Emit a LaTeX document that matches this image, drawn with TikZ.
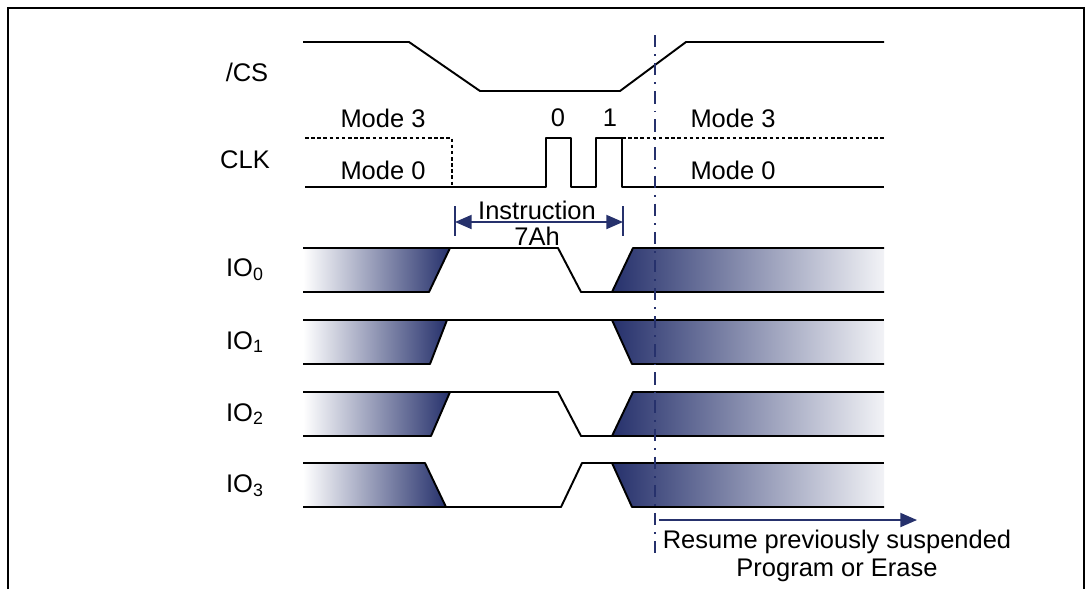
\documentclass[tikz,border=0pt]{standalone}
\usepackage{fontspec}
\setmainfont{Liberation Sans}
\usetikzlibrary{arrows.meta,positioning}
\definecolor{navy}{RGB}{38,49,108}

\begin{document}
\begin{tikzpicture}[x=0.02cm, y=-0.02cm, >={Triangle[length=9.5pt, width=8pt]},
  font=\fontsize{14.5}{16}\selectfont,
  sig/.style={line width=1.1pt, line join=round},
  modeline/.style={line width=0.8pt, dash pattern=on 2pt off 1.5pt},
  fadein/.style={left color=white, right color=navy},
  fadeout/.style={left color=navy, right color=navy!6}]
  \useasboundingbox (0,0) rectangle (1091,589);
  \draw[line width=1.2pt] (8,589) -- (8,8) -- (1084,8) -- (1084,589);

  \node (cs) at (247,72) {/CS};
  \node (clk) at (245,160) {CLK};
  \node (io0) at (245,270) {IO\textsubscript{0}};
  \node (io1) at (245,342) {IO\textsubscript{1}};
  \node (io2) at (245,414) {IO\textsubscript{2}};
  \node (io3) at (245,486) {IO\textsubscript{3}};

  \draw[sig] (303,42) -- (409,42) -- (480,91) -- (620,91) -- (686,42) -- (884,42);

  \draw[sig] (305,187) -- (546,187) -- (546,138) -- (571,138) -- (571,187) -- (596,187)
    -- (596,138) -- (622,138) -- (622,187) -- (884,187);
  \draw[modeline] (305,138) -- (452,138) -- (452,187);
  \draw[modeline] (622,138) -- (884,138);
  \node (m3l) at (383,118) {Mode 3};
  \node (m0l) at (383,170) {Mode 0};
  \node (m3r) at (733,118) {Mode 3};
  \node (m0r) at (733,170) {Mode 0};
  \node (b0) at (558,118) {0};
  \node (b1) at (610,118) {1};

  \shade[fadein] (303,248) -- (450,248) -- (429,292) -- (303,292) -- cycle;
  \shade[fadein] (303,320) -- (447,320) -- (430,364) -- (303,364) -- cycle;
  \shade[fadein] (303,392) -- (450,392) -- (431,436) -- (303,436) -- cycle;
  \shade[fadein] (303,463) -- (425,463) -- (446,507) -- (303,507) -- cycle;
  \shade[fadeout] (633,248) -- (884,248) -- (884,292) -- (612,292) -- cycle;
  \shade[fadeout] (612,320) -- (884,320) -- (884,364) -- (632,364) -- cycle;
  \shade[fadeout] (633,392) -- (884,392) -- (884,436) -- (612,436) -- cycle;
  \shade[fadeout] (612,463) -- (884,463) -- (884,507) -- (632,507) -- cycle;

  \draw[sig] (303,248) -- (558,248) -- (581,292) -- (884,292);
  \draw[sig] (303,292) -- (429,292) -- (450,248);
  \draw[sig] (612,292) -- (633,248) -- (884,248);

  \draw[sig] (303,320) -- (884,320);
  \draw[sig] (303,364) -- (430,364) -- (447,320);
  \draw[sig] (612,320) -- (632,364) -- (884,364);

  \draw[sig] (303,392) -- (558,392) -- (581,436) -- (884,436);
  \draw[sig] (303,436) -- (431,436) -- (450,392);
  \draw[sig] (612,436) -- (633,392) -- (884,392);

  \draw[sig] (303,463) -- (425,463) -- (446,507) -- (561,507) -- (582,463) -- (612,463)
    -- (632,507) -- (884,507);
  \draw[sig] (303,507) -- (446,507);
  \draw[sig] (612,463) -- (884,463);

  \draw[navy, line width=0.9pt, dash pattern=on 7pt off 4pt on 1pt off 4pt] (655,35) -- (655,560);

  \coordinate (insL) at (455,222);
  \coordinate (insR) at (623,222);
  \draw[navy, line width=0.8pt] (insL) ++(0,-16) -- ++(0,30);
  \draw[navy, line width=0.8pt] (insR) ++(0,-16) -- ++(0,30);
  \draw[navy, line width=1pt, <->] (insL) -- (insR);
  \node (ins) at (537,210) {Instruction};
  \node (code) at (537,236) {7Ah};

  \coordinate (resA) at (659,520);
  \coordinate (resB) at (917,520);
  \draw[navy, line width=1pt, ->] (resA) -- (resB);
  \node[align=center] (resume) at (837,556) {Resume previously suspended\\Program or Erase};
\end{tikzpicture}
\end{document}
